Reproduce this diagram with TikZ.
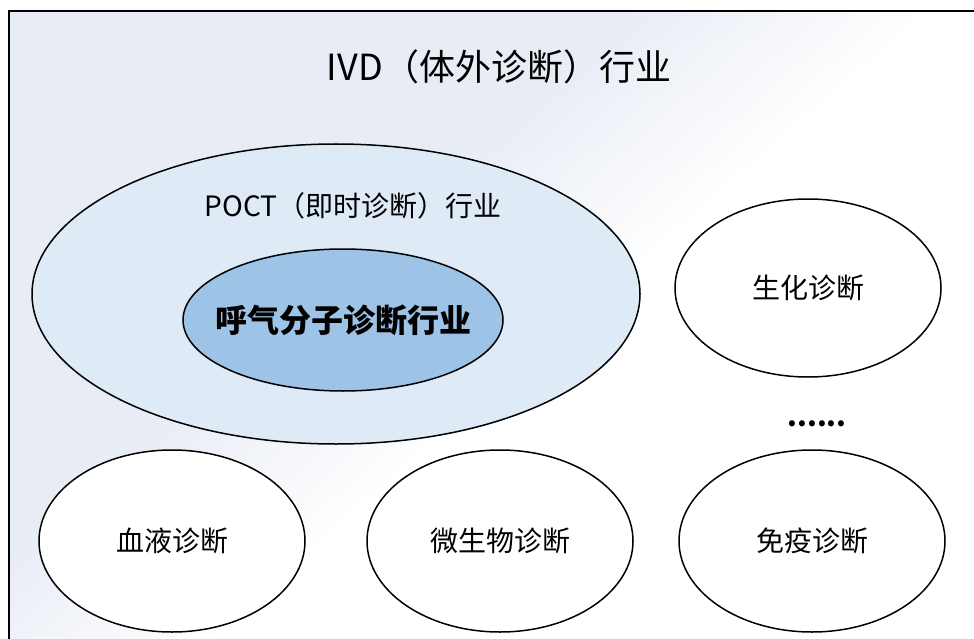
\documentclass[tikz,border=0pt]{standalone}
\usepackage{fontspec}
\setmainfont{Noto Sans CJK SC}
\usetikzlibrary{shapes.geometric}
\definecolor{ivdback}{RGB}{232,236,245}
\definecolor{poctfill}{RGB}{222,234,246}
\definecolor{breathfill}{RGB}{157,195,230}
\begin{document}
\begin{tikzpicture}[x=1pt,y=-1pt,
    oval/.style={ellipse,draw,line width=1.5pt,fill=white,inner sep=0pt},
    bigoval/.style={oval,minimum width=266pt,minimum height=182pt},
    tag/.style={font=\fontsize{28}{32}\selectfont}]
  \useasboundingbox (0,0) rectangle (974,639);
  \begin{scope}
    \clip (9,11) rectangle (990,655);
    \fill[white] (0,0) rectangle (990,655);
    \begin{scope}[rotate=-48.9]
      \fill[ivdback] (-300,-1500) rectangle (422,1500);
      \foreach \i in {0,...,39}{
        \pgfmathtruncatemacro\pct{100-2.5*\i}
        \fill[ivdback!\pct!white] (421+5*\i,-1500) rectangle (427+5*\i,1500);
      }
    \end{scope}
  \end{scope}
  \draw[line width=1.2pt] (9,11) rectangle (990,655);
  \node[font=\fontsize{36}{40}\selectfont] (ivd) at (499,67) {IVD（体外诊断）行业};
  \node[oval,fill=poctfill,minimum width=608pt,minimum height=300pt] (poct) at (336,294) {};
  \node[tag] (poctname) at (353,206) {POCT（即时诊断）行业};
  \node[oval,fill=breathfill,minimum width=320pt,minimum height=142pt,
    label={[font=\fontsize{32}{36}\selectfont\bfseries]center:呼气分子诊断行业}] (breath) at (343,320) {};
  \node[oval,minimum width=266pt,minimum height=178pt,label={[tag]center:生化诊断}] (biochem) at (808,288) {};
  \node[tag,font=\fontsize{28}{32}\selectfont\bfseries] (more) at (817,424) {......};
  \node[bigoval,label={[tag]center:血液诊断}] (blood) at (172,541) {};
  \node[bigoval,label={[tag]center:微生物诊断}] (micro) at (500,541) {};
  \node[bigoval,label={[tag]center:免疫诊断}] (immune) at (812,541) {};
\end{tikzpicture}
\end{document}
